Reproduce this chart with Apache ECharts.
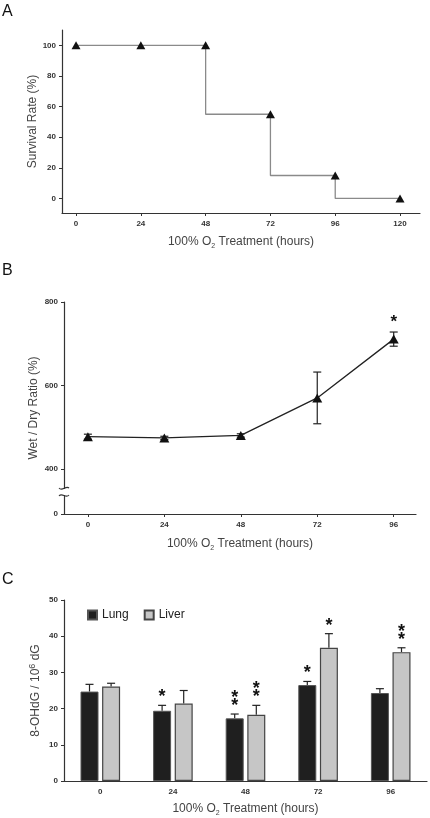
<!DOCTYPE html>
<html><head><meta charset="utf-8">
<script src="https://cdn.jsdelivr.net/npm/echarts@6/dist/echarts.min.js"></script>
<style>html,body{margin:0;padding:0;background:#fff}#c{width:430px;height:818px}</style>
</head><body><div id="c"></div>
<script>
// ---------- Panel A: survival ----------
const hoursA = [0, 24, 48, 72, 96, 120];
const survival = [100, 100, 100, 55, 15, 0];
const ticksAy = [0, 20, 40, 60, 80, 100];
// ---------- Panel B: wet/dry ratio ----------
const hoursB = [0, 24, 48, 72, 96];
const wetDry = [477, 474, 480, 570, 711];
const wetDryErr = [6, 4, 4, 62, 17];
const starsB = [0, 0, 0, 0, 1];
const ticksBy = [400, 600, 800];
// ---------- Panel C: 8-OHdG ----------
const hoursC = ['0', '24', '48', '72', '96'];
const lung = [24.7, 19.4, 17.3, 26.5, 24.3];
const lungErr = [2.0, 1.5, 1.2, 1.0, 1.2];
const liver = [26.1, 21.4, 18.3, 36.8, 35.6];
const liverErr = [0.9, 3.6, 2.6, 3.9, 1.2];
const starsLung = [0, 1, 2, 1, 0];
const starsLiver = [0, 0, 2, 1, 2];

const FONT = '"Liberation Sans", Arial, sans-serif';
const lab = {fontSize: 8, fontWeight: 'bold', color: '#333', fontFamily: FONT};
const axLine = {lineStyle: {color: '#333', width: 1.2}};
const tick = {length: 3, lineStyle: {color: '#333', width: 1}};
const richName = {
  b: {fontSize: 12, color: '#444', fontFamily: FONT, lineHeight: 16, verticalAlign: 'middle'},
  sub: {fontSize: 7, color: '#444', fontFamily: FONT, lineHeight: 16, verticalAlign: 'bottom'},
  sup: {fontSize: 9, color: '#444', fontFamily: FONT, lineHeight: 16, verticalAlign: 'top'}
};
const xName = '{b|100% O}{sub|2}{b| Treatment (hours)}';

const chart = echarts.init(document.getElementById('c'), null, {renderer: 'canvas'});

function starTexts(x, yTop, n, first, step, size) {
  const out = [];
  for (let k = 0; k < n; k++) {
    out.push({type: 'text', style: {x: x, y: yTop - first - step * k, text: '*', fontSize: size, fontWeight: 'bold',
      fontFamily: FONT, fill: '#111', align: 'center', verticalAlign: 'middle'}});
  }
  return out;
}

function errB(params, api) {
  const x = api.value(0), y = api.value(1), e = api.value(2), s = api.value(3);
  const t = api.coord([x, y + e]), b = api.coord([x, y - e]);
  const st = {stroke: '#222', lineWidth: 1.2};
  const ch = [
    {type: 'line', shape: {x1: t[0], y1: t[1], x2: b[0], y2: b[1]}, style: st},
    {type: 'line', shape: {x1: t[0] - 4, y1: t[1], x2: t[0] + 4, y2: t[1]}, style: st},
    {type: 'line', shape: {x1: b[0] - 4, y1: b[1], x2: b[0] + 4, y2: b[1]}, style: st}
  ];
  return {type: 'group', children: ch.concat(starTexts(t[0], t[1], s, 10, 7, 17))};
}

function errC(side) {
  return function (params, api) {
    const i = api.value(0), v = api.value(1), e = api.value(2), s = api.value(3);
    const t = api.coord([i, v + e]), b = api.coord([i, v]);
    const x = t[0] + side * 10.8;
    const st = {stroke: '#222', lineWidth: 1.2};
    const ch = [
      {type: 'line', shape: {x1: x, y1: t[1], x2: x, y2: b[1]}, style: st},
      {type: 'line', shape: {x1: x - 4, y1: t[1], x2: x + 4, y2: t[1]}, style: st}
    ];
    return {type: 'group', children: ch.concat(starTexts(x, t[1], s, 8, 8, 18))};
  };
}

const option = {
  animation: false,
  backgroundColor: '#fff',
  textStyle: {fontFamily: FONT},
  grid: [
    {left: 62, top: 30, width: 358, height: 183, outerBoundsMode: 'none'},
    {left: 64, top: 302, width: 352, height: 212, outerBoundsMode: 'none'},
    {left: 64, top: 600, width: 363, height: 181, outerBoundsMode: 'none'}
  ],
  legend: {
    data: ['Lung', 'Liver'], left: 82, top: 604, icon: 'rect', itemWidth: 9, itemHeight: 9, itemGap: 15,
    textStyle: {fontSize: 12, color: '#222', fontFamily: FONT}
  },
  xAxis: [
    {gridIndex: 0, type: 'value', min: -5.2, max: 127.4, axisLine: {onZero: false, ...axLine},
      axisTick: {...tick, customValues: hoursA}, axisLabel: {...lab, margin: 7, customValues: hoursA},
      splitLine: {show: false}, name: xName, nameLocation: 'middle', nameGap: 21, nameMoveOverlap: false,
      nameTextStyle: {rich: richName}},
    {gridIndex: 1, type: 'value', min: -7.5, max: 103, axisLine: {onZero: false, ...axLine},
      axisTick: {...tick, customValues: hoursB}, axisLabel: {...lab, margin: 7, customValues: hoursB},
      splitLine: {show: false}, name: xName, nameLocation: 'middle', nameGap: 22, nameMoveOverlap: false,
      nameTextStyle: {rich: richName}},
    {gridIndex: 2, type: 'category', data: hoursC, axisLine: axLine,
      axisTick: {...tick, alignWithLabel: true}, axisLabel: {...lab, margin: 7},
      name: xName, nameLocation: 'middle', nameGap: 20, nameMoveOverlap: false, nameTextStyle: {rich: richName}}
  ],
  yAxis: [
    {gridIndex: 0, type: 'value', min: -9.5, max: 110, axisLine: {show: true, onZero: false, ...axLine},
      axisTick: {show: true, ...tick, customValues: ticksAy}, axisLabel: {...lab, margin: 6, customValues: ticksAy},
      splitLine: {show: false}, name: 'Survival Rate (%)', nameLocation: 'middle', nameGap: 23, nameMoveOverlap: false,
      nameTextStyle: {fontSize: 12, color: '#444', fontFamily: FONT}},
    {gridIndex: 1, type: 'value', min: 291.6, max: 800, axisLine: {show: true, onZero: false, ...axLine},
      axisTick: {show: true, ...tick, customValues: [291.6].concat(ticksBy)},
      axisLabel: {...lab, margin: 6, customValues: [291.6].concat(ticksBy), formatter: v => (v < 300 ? '0' : String(v))},
      splitLine: {show: false}, name: 'Wet / Dry Ratio (%)', nameLocation: 'middle', nameGap: 24, nameMoveOverlap: false,
      nameTextStyle: {fontSize: 12, color: '#444', fontFamily: FONT}},
    {gridIndex: 2, type: 'value', min: 0, max: 50, interval: 10, axisLine: {show: true, ...axLine},
      axisTick: {show: true, ...tick}, axisLabel: {...lab, margin: 6},
      splitLine: {show: false}, name: '{b|8-OHdG / 10}{sup|6}{b| dG}', nameLocation: 'middle', nameGap: 20,
      nameMoveOverlap: false, nameTextStyle: {rich: richName}}
  ],
  series: [
    {type: 'line', xAxisIndex: 0, yAxisIndex: 0, step: 'start', data: hoursA.map((h, i) => [h, survival[i]]),
      lineStyle: {color: '#8a8a8a', width: 1.3}, symbol: 'triangle', symbolSize: [9, 8],
      itemStyle: {color: '#111'}, z: 3},
    {type: 'custom', xAxisIndex: 1, yAxisIndex: 1, renderItem: errB,
      data: hoursB.map((h, i) => [h, wetDry[i], wetDryErr[i], starsB[i]]), z: 2},
    {type: 'line', xAxisIndex: 1, yAxisIndex: 1, data: hoursB.map((h, i) => [h, wetDry[i]]),
      lineStyle: {color: '#222', width: 1.3}, symbol: 'triangle', symbolSize: [10, 9],
      itemStyle: {color: '#111'}, z: 3},
    {name: 'Lung', type: 'bar', xAxisIndex: 2, yAxisIndex: 2, data: lung, barWidth: 18, barGap: '20%',
      itemStyle: {color: '#1f1f1f', borderColor: '#555', borderWidth: 1}},
    {name: 'Liver', type: 'bar', xAxisIndex: 2, yAxisIndex: 2, data: liver, barWidth: 18,
      itemStyle: {color: '#c6c6c6', borderColor: '#444', borderWidth: 1.2}},
    {type: 'custom', xAxisIndex: 2, yAxisIndex: 2, renderItem: errC(-1),
      data: lung.map((v, i) => [i, v, lungErr[i], starsLung[i]]), z: 1},
    {type: 'custom', xAxisIndex: 2, yAxisIndex: 2, renderItem: errC(1),
      data: liver.map((v, i) => [i, v, liverErr[i], starsLiver[i]]), z: 1}
  ],
  graphic: [
    {type: 'text', x: 2, y: 4, style: {text: 'A', fontSize: 16, fontFamily: FONT, fill: '#111'}},
    {type: 'text', x: 2, y: 263, style: {text: 'B', fontSize: 16, fontFamily: FONT, fill: '#111'}},
    {type: 'text', x: 2, y: 572, style: {text: 'C', fontSize: 16, fontFamily: FONT, fill: '#111'}},
    {type: 'rect', shape: {x: 60, y: 489, width: 8, height: 6}, style: {fill: '#fff'}, z: 100},
    {type: 'bezierCurve', shape: {x1: 59, y1: 488, cpx1: 62, cpy1: 492, cpx2: 66, cpy2: 485, x2: 69, y2: 488},
      style: {stroke: '#333', fill: null, lineWidth: 1.1}, z: 101},
    {type: 'bezierCurve', shape: {x1: 59, y1: 496, cpx1: 62, cpy1: 492, cpx2: 66, cpy2: 499, x2: 69, y2: 495},
      style: {stroke: '#333', fill: null, lineWidth: 1.1}, z: 101}
  ]
};
chart.setOption(option);
</script>
</body></html>
